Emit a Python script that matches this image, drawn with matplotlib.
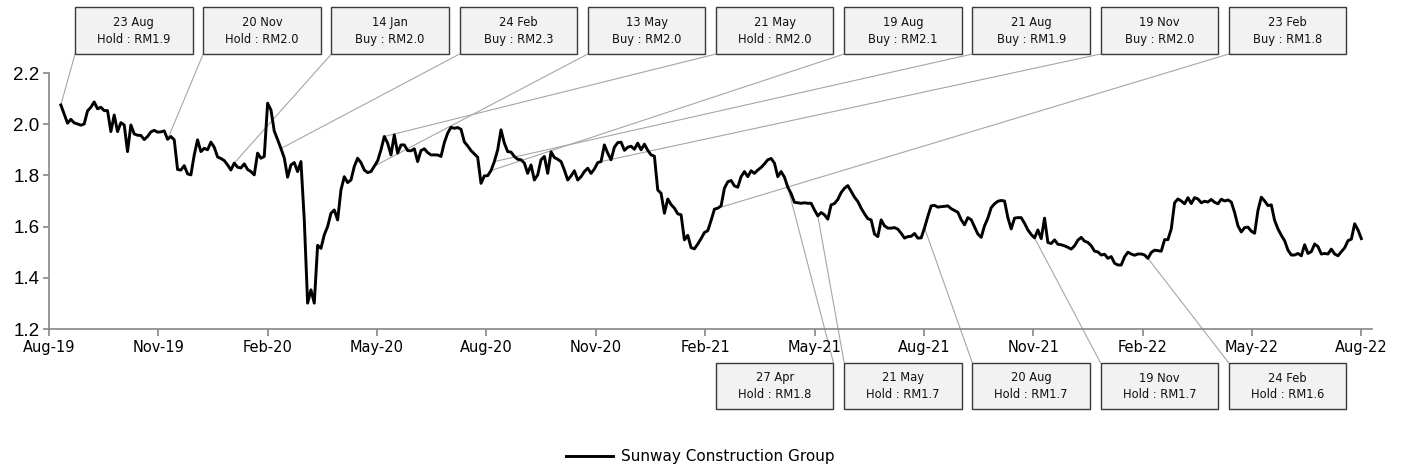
import numpy as np
import pandas as pd
import matplotlib
matplotlib.use("Agg")
import matplotlib.pyplot as plt
import matplotlib.dates as mdates
from matplotlib.patches import Rectangle

# ---------------- data ----------------
series_name = "Sunway Construction Group"
start_date = "2019-08-22"
end_date = "2022-08-23"
price = [
    2.075, 2.040, 2.004, 2.019, 2.005, 2.001, 1.996, 2.001, 2.052, 2.066,
    2.087, 2.060, 2.066, 2.053, 2.053, 1.971, 2.036, 1.971, 2.006, 1.997,
    1.893, 1.997, 1.962, 1.957, 1.956, 1.940, 1.952, 1.970, 1.976, 1.969,
    1.970, 1.974, 1.941, 1.952, 1.939, 1.823, 1.821, 1.838, 1.806, 1.802,
    1.880, 1.939, 1.893, 1.906, 1.900, 1.930, 1.910, 1.872, 1.866, 1.858,
    1.841, 1.821, 1.848, 1.832, 1.829, 1.845, 1.823, 1.815, 1.802, 1.887,
    1.867, 1.874, 2.082, 2.056, 1.973, 1.940, 1.905, 1.868, 1.793, 1.841,
    1.850, 1.815, 1.854, 1.626, 1.301, 1.353,
    1.301, 1.527, 1.515, 1.568, 1.600, 1.652, 1.665, 1.626, 1.743, 1.795,
    1.772, 1.782, 1.835, 1.867, 1.850, 1.821, 1.811, 1.815, 1.836, 1.857,
    1.900, 1.952, 1.926, 1.880, 1.958, 1.887, 1.919, 1.919, 1.897, 1.896,
    1.904, 1.854, 1.897, 1.904, 1.889, 1.880, 1.880, 1.880, 1.874, 1.928,
    1.965, 1.988, 1.984, 1.987, 1.980, 1.931, 1.915, 1.897, 1.884, 1.871,
    1.769, 1.798, 1.799, 1.819, 1.854, 1.900, 1.978, 1.926, 1.893, 1.891,
    1.874, 1.863, 1.861, 1.848, 1.808, 1.841, 1.782, 1.802, 1.861, 1.874,
    1.808, 1.892, 1.870, 1.863, 1.854, 1.821, 1.782, 1.798, 1.818, 1.782,
    1.795, 1.815, 1.828, 1.808, 1.825, 1.850, 1.854, 1.919, 1.887, 1.861,
    1.910, 1.928, 1.930, 1.898, 1.910, 1.914, 1.902, 1.926, 1.900, 1.922,
    1.898, 1.880, 1.875, 1.743, 1.730, 1.652, 1.708, 1.686, 1.672, 1.650,
    1.646, 1.548, 1.566, 1.518, 1.513, 1.532, 1.553, 1.577, 1.584, 1.624,
    1.668, 1.672, 1.681, 1.750, 1.775, 1.780, 1.759, 1.754, 1.795, 1.815,
    1.795, 1.818, 1.808, 1.821, 1.831, 1.845, 1.861, 1.866, 1.848, 1.795,
    1.815, 1.793, 1.754, 1.729, 1.695, 1.693, 1.691, 1.693, 1.691, 1.691,
    1.665, 1.642, 1.655, 1.646, 1.629, 1.685, 1.690, 1.706, 1.733, 1.750,
    1.760, 1.738, 1.715, 1.698, 1.672, 1.650, 1.631, 1.626, 1.571, 1.561,
    1.626, 1.603, 1.594, 1.594, 1.596, 1.590, 1.574, 1.555, 1.561, 1.562,
    1.573, 1.555, 1.556, 1.595, 1.640, 1.681, 1.683, 1.676, 1.678, 1.679,
    1.681, 1.670, 1.663, 1.656, 1.627, 1.607, 1.635, 1.627, 1.599, 1.571,
    1.558, 1.603, 1.633, 1.674, 1.689, 1.699, 1.702, 1.700, 1.635, 1.591,
    1.633, 1.635, 1.635, 1.613, 1.587, 1.569, 1.556, 1.587, 1.553, 1.633,
    1.538, 1.534, 1.548, 1.531, 1.529, 1.525, 1.519, 1.512, 1.525, 1.547,
    1.558, 1.543, 1.538, 1.525, 1.504, 1.501, 1.489, 1.492, 1.476,
    1.483, 1.457, 1.450, 1.450, 1.482, 1.500, 1.493, 1.488, 1.493, 1.493,
    1.489, 1.476, 1.499, 1.508, 1.506, 1.504, 1.549, 1.549, 1.591, 1.693,
    1.708, 1.700, 1.689, 1.713, 1.690, 1.713, 1.708, 1.693, 1.699, 1.696,
    1.706, 1.695, 1.689, 1.707, 1.700, 1.704, 1.696, 1.655, 1.603, 1.579,
    1.596, 1.598, 1.582, 1.574, 1.663, 1.715, 1.700, 1.682, 1.685, 1.624,
    1.591, 1.566, 1.545, 1.508, 1.489, 1.489, 1.495, 1.486, 1.529, 1.495,
    1.502, 1.532, 1.522, 1.493, 1.495, 1.493, 1.512, 1.493, 1.486, 1.502,
    1.517, 1.545, 1.551, 1.611, 1.587, 1.553,
]

axis_start = "2019-08-12"
tick_labels = ["Aug-19", "Nov-19", "Feb-20", "May-20", "Aug-20", "Nov-20",
               "Feb-21", "May-21", "Aug-21", "Nov-21", "Feb-22", "May-22", "Aug-22"]
tick_span_days = 1107
axis_span_days = 1116
y_ticks = [1.2, 1.4, 1.6, 1.8, 2.0, 2.2]

top_dates = ["2019-08-23", "2019-11-20", "2020-01-14", "2020-02-24", "2020-05-13",
             "2020-05-21", "2020-08-19", "2020-08-21", "2020-11-19", "2021-02-23"]
top_labels = ["23 Aug\nHold : RM1.9", "20 Nov\nHold : RM2.0", "14 Jan\nBuy : RM2.0",
              "24 Feb\nBuy : RM2.3", "13 May\nBuy : RM2.0", "21 May\nHold : RM2.0",
              "19 Aug\nBuy : RM2.1", "21 Aug\nBuy : RM1.9", "19 Nov\nBuy : RM2.0",
              "23 Feb\nBuy : RM1.8"]
bottom_dates = ["2021-04-27", "2021-05-21", "2021-08-20", "2021-11-19", "2022-02-24"]
bottom_labels = ["27 Apr\nHold : RM1.8", "21 May\nHold : RM1.7", "20 Aug\nHold : RM1.7",
                 "19 Nov\nHold : RM1.7", "24 Feb\nHold : RM1.6"]

# ---------------- layout ----------------
W, H = 1405, 470
fig = plt.figure(figsize=(W / 100, H / 100), dpi=100)
ax = fig.add_axes([49 / W, 1 - 329 / H, (1372 - 49) / W, (329 - 73) / H])

dates = pd.date_range(start_date, end_date, periods=len(price))
line, = ax.plot(dates, price, color="black", lw=2.1, zorder=3)

x0 = pd.Timestamp(axis_start)
ax.set_xlim(x0, x0 + pd.Timedelta(days=axis_span_days))
ax.set_ylim(1.2, 2.2)
tick_pos = [x0 + pd.Timedelta(days=float(d)) for d in np.linspace(0, tick_span_days, len(tick_labels))]
ax.set_xticks(tick_pos)
ax.set_xticklabels(tick_labels, fontsize=10.5, family="DejaVu Sans")
ax.set_yticks(y_ticks)
ax.set_yticklabels([f"{v:.1f}" for v in y_ticks], fontsize=13.5, family="Liberation Sans")

spine_c = "#868686"
for s in ["top", "right"]:
    ax.spines[s].set_visible(False)
for s in ["left", "bottom"]:
    ax.spines[s].set_color(spine_c)
    ax.spines[s].set_linewidth(1.2)
ax.tick_params(axis="both", colors=spine_c, labelcolor="black", width=1.2)
ax.tick_params(axis="x", length=5, pad=3)
ax.tick_params(axis="y", length=4, pad=3)
ax.patch.set_alpha(0)

box_w, pitch = 117.5, 128.2
box_face, box_edge, lead_c = "#F2F2F2", "#3A3A3A", "#A6A6A6"


def pt(date_str):
    i = int(np.argmin(np.abs(dates - pd.Timestamp(date_str))))
    return mdates.date2num(dates[i]), price[i]


def draw_box(left_px, top_px, h_px, text):
    rect = Rectangle((left_px / W, 1 - (top_px + h_px) / H), box_w / W, h_px / H,
                     transform=fig.transFigure, facecolor=box_face, edgecolor=box_edge,
                     lw=1.0, zorder=5)
    fig.add_artist(rect)
    fig.text((left_px + box_w / 2) / W, 1 - (top_px + h_px / 2 + 0.5) / H, text,
             ha="center", va="center", fontsize=8.3, family="DejaVu Sans",
             linespacing=1.4, color="#111111", zorder=6)


def leader(fx, fy, d):
    ax.annotate("", xy=pt(d), xycoords="data",
                xytext=(fx / W, 1 - fy / H), textcoords="figure fraction",
                arrowprops=dict(arrowstyle="-", shrinkA=0, shrinkB=0,
                                color=lead_c, lw=0.8),
                annotation_clip=False, zorder=1)


for k, (d, lab) in enumerate(zip(top_dates, top_labels)):
    left = 75 + k * pitch
    draw_box(left, 7, 47, lab)
    leader(left, 54, d)

bottom_anchor = ["right", "left", "left", "left", "left"]
for k, (d, lab) in enumerate(zip(bottom_dates, bottom_labels)):
    left = 716 + k * pitch
    draw_box(left, 363, 46, lab)
    ax_x = left + box_w if bottom_anchor[k] == "right" else left
    leader(ax_x, 363, d)

fig.legend([line], [series_name], loc="center", bbox_to_anchor=(700 / W, 1 - 457 / H),
           frameon=False, handlelength=3.1, handletextpad=0.5,
           prop={"family": "DejaVu Sans", "size": 11})

fig.savefig("out.png", dpi=100)
